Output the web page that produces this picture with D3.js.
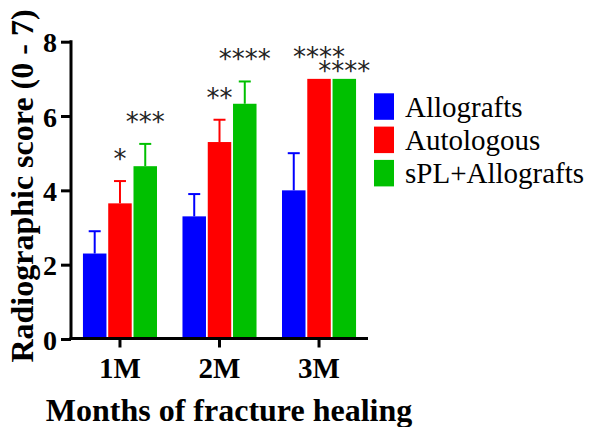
<!DOCTYPE html>
<html>
<head>
<meta charset="utf-8">
<script src="https://cdn.jsdelivr.net/npm/d3@7"></script>
<style>
  body { margin: 0; background: #fff; }
  svg { display: block; }
  .axis text { font-family: "Liberation Serif", "Times New Roman", serif; font-weight: bold; fill: #000; }
  .axis path, .axis line { stroke: #000; stroke-width: 3; }
</style>
</head>
<body>
<div id="chart"></div>
<script>
// chart data
var groups = ["1M", "2M", "3M"];
var seriesNames = ["Allografts", "Autologous", "sPL+Allografts"];
var seriesColors = ["#0000ff", "#ff0000", "#00c000"];
var allograftMeans = [2.3, 3.3, 4.0];
var allograftErr = [0.6, 0.6, 1.0];
var autologousMeans = [3.65, 5.3, 7.0];
var autologousErr = [0.6, 0.6, 0];
var splMeans = [4.65, 6.33, 7.0];
var splErr = [0.6, 0.6, 0];
// significance marks, per series (blank = none)
var autologousSig = ["*", "**", "****"];
var splSig = ["***", "****", "****"];
var yTicks = [0, 2, 4, 6, 8];

var width = 595, height = 427;
var svg = d3.select("#chart").append("svg")
	.attr("width", width)
	.attr("height", height);

var means = [allograftMeans, autologousMeans, splMeans];
var errs = [allograftErr, autologousErr, splErr];
var sigs = [[], autologousSig, splSig];

var rows = [];
groups.forEach(function (g, gi) {
	seriesNames.forEach(function (s, si) {
		rows.push({ group: g, series: s, idx: si, mean: means[si][gi], err: errs[si][gi], sig: sigs[si][gi] || "" });
	});
});

var y = d3.scaleLinear().domain([0, 8]).range([339, 41.7]);
var x0 = d3.scaleBand().domain(groups).range([72, 367]).paddingInner(0.256).paddingOuter(0.11);
var x1 = d3.scaleBand().domain(seriesNames).range([0, x0.bandwidth()]).paddingInner(0.07);
var color = d3.scaleOrdinal().domain(seriesNames).range(seriesColors);

// bars
svg.append("g").selectAll("rect")
	.data(rows)
	.enter()
	.append("rect")
	.attr("x", function (d) { return x0(d.group) + x1(d.series); })
	.attr("y", function (d) { return y(d.mean); })
	.attr("width", x1.bandwidth())
	.attr("height", function (d) { return y(0) - y(d.mean); })
	.attr("fill", function (d) { return color(d.series); });

// error bars (upper only)
var errG = svg.append("g").selectAll("g")
	.data(rows.filter(function (d) { return d.err > 0; }))
	.enter()
	.append("g")
	.attr("stroke", function (d) { return color(d.series); })
	.attr("stroke-width", 2);

errG.append("line")
	.attr("x1", function (d) { return x0(d.group) + x1(d.series) + x1.bandwidth() / 2; })
	.attr("x2", function (d) { return x0(d.group) + x1(d.series) + x1.bandwidth() / 2; })
	.attr("y1", function (d) { return y(d.mean); })
	.attr("y2", function (d) { return y(d.mean + d.err); });

errG.append("line")
	.attr("x1", function (d) { return x0(d.group) + x1(d.series) + x1.bandwidth() / 2 - 6; })
	.attr("x2", function (d) { return x0(d.group) + x1(d.series) + x1.bandwidth() / 2 + 6; })
	.attr("y1", function (d) { return y(d.mean + d.err); })
	.attr("y2", function (d) { return y(d.mean + d.err); });

// significance stars, nudged down when they would collide with the previous one
var placed = [];
rows.filter(function (d) { return d.sig; }).forEach(function (d) {
	var cx = x0(d.group) + x1(d.series) + x1.bandwidth() / 2;
	var cy = y(d.mean + d.err) - 27;
	var half = d.sig.length * 6.5;
	placed.forEach(function (p) {
		if (Math.abs(p.cy - cy) < 14 && Math.abs(p.cx - cx) < p.half + half) {
			cy = p.cy + 14;
		}
	});
	placed.push({ cx: cx, cy: cy, half: half, text: d.sig });
});

svg.append("g").selectAll("text")
	.data(placed)
	.enter()
	.append("text")
	.attr("x", function (d) { return d.cx; })
	.attr("y", function (d) { return d.cy + 14; })
	.attr("text-anchor", "middle")
	.style("font-family", "'DejaVu Sans', sans-serif")
	.style("font-size", "26px")
	.style("fill", "#222")
	.text(function (d) { return d.text; });

// axes
var yAxis = svg.append("g")
	.attr("class", "axis")
	.attr("transform", "translate(71,0)")
	.call(d3.axisLeft(y).tickValues(yTicks).tickSize(10).tickSizeOuter(0).tickPadding(4));
yAxis.selectAll("text").style("font-size", "28px").attr("dy", "0.36em");
yAxis.select(".domain").attr("d", "M0," + (y(8) - 1.5) + "V" + y(0));

var xAxis = svg.append("g")
	.attr("class", "axis")
	.attr("transform", "translate(0,338.5)")
	.call(d3.axisBottom(x0).tickSize(9).tickSizeOuter(0).tickPadding(10));
xAxis.selectAll("text").style("font-size", "29px").attr("dy", "0.71em");
xAxis.select(".domain").attr("d", "M69.5,0H368");

// axis titles
svg.append("text")
	.attr("x", 229)
	.attr("y", 421)
	.attr("text-anchor", "middle")
	.style("font-family", "'Liberation Serif', 'Times New Roman', serif")
	.style("font-weight", "bold")
	.style("font-size", "32px")
	.text("Months of fracture healing");

svg.append("text")
	.attr("transform", "translate(33,186) rotate(-90)")
	.attr("text-anchor", "middle")
	.style("font-family", "'Liberation Serif', 'Times New Roman', serif")
	.style("font-weight", "bold")
	.style("font-size", "32px")
	.text("Radiographic score (0 - 7)");

// legend
var legend = svg.append("g").selectAll("g")
	.data(seriesNames)
	.enter()
	.append("g")
	.attr("transform", function (d, i) { return "translate(374," + (93.3 + i * 33.3) + ")"; });

legend.append("rect")
	.attr("width", 20)
	.attr("height", 26.5)
	.attr("fill", function (d) { return color(d); });

legend.append("text")
	.attr("x", 31)
	.attr("y", 23.5)
	.style("font-family", "'Liberation Serif', 'Times New Roman', serif")
	.style("font-size", "29px")
	.text(function (d) { return d; });
</script>
</body>
</html>
